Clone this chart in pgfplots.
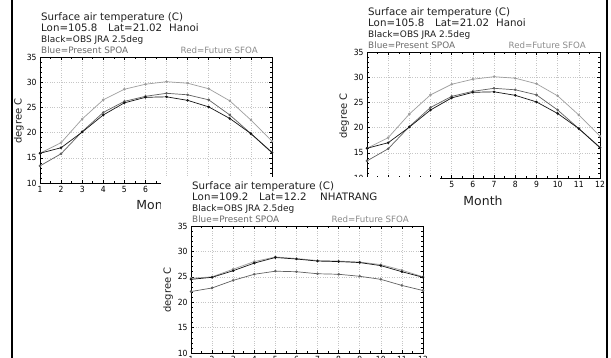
\documentclass[border=0pt]{standalone}
\usepackage{pgfplots}
\pgfplotsset{compat=1.18}
\usepackage{fontspec}
\setmainfont{DejaVu Sans}
\newfontfamily\condfont{DejaVu Sans Condensed}
\definecolor{obs}{gray}{0.08}
\definecolor{pres}{gray}{0.38}
\definecolor{fut}{gray}{0.62}
\definecolor{txt}{gray}{0.12}
\definecolor{bluetxt}{gray}{0.42}
\definecolor{redtxt}{gray}{0.55}

% Hanoi
\pgfplotstableread{
m obs pres fut
1 15.9 13.4 15.9
2 17.0 15.8 18.0
3 20.1 20.2 22.7
4 23.5 24.0 26.5
5 25.9 26.2 28.6
6 27.0 27.2 29.6
7 27.1 27.8 30.1
8 26.4 27.5 29.8
9 25.1 26.5 28.7
10 22.8 23.5 26.3
11 19.8 19.8 22.5
12 16.0 16.1 18.3
}\hanoi
% Nha Trang
\pgfplotstableread{
m obs pres fut
1 24.5 22.1 24.7
2 24.9 22.8 25.0
3 26.2 24.3 26.5
4 27.7 25.5 28.0
5 28.8 26.1 28.9
6 28.5 26.0 28.6
7 28.1 25.6 28.2
8 28.0 25.5 28.1
9 27.8 25.1 27.9
10 27.2 24.5 27.4
11 26.0 23.3 26.3
12 24.9 22.3 25.0
}\nhatrang

\pgfplotsset{
  panel/.style={
    scale only axis, anchor=south west,
    xmin=1, xmax=12, ymin=10, ymax=35,
    xtick={1,...,12}, ytick={10,15,...,35},
    minor x tick num=1, minor y tick num=4,
    grid=major,
    major grid style={gray!45, dotted, line width=0.5pt},
    tick align=inside,
    major tick length=3bp, minor tick length=1.6bp,
    every tick/.style={black, line width=0.5pt},
    axis line style={line width=0.6pt, black},
    tick label style={font=\condfont\fontsize{8.5}{9}\selectfont},
    /pgf/number format/assume math mode=true,
    xticklabel style={yshift=0bp},
  },
  ser/.style={line width=0.7pt, mark=*, mark size=0.9bp, mark options={solid}},
}

\newcommand\headtext[6]{% #1 left x, #2 top y (axis top), #3 right x, #4 lon, #5 lat, #6 place
  \node[anchor=base west, inner sep=0, text=txt, font=\fontsize{10.3}{11}\selectfont] at (#1bp+1bp,-#2bp+37bp) {Surface air temperature (C)};
  \node[anchor=base west, inner sep=0, text=txt, font=\fontsize{10.3}{11}\selectfont] at (#1bp+1bp,-#2bp+26bp) {Lon=#4};
  \node[anchor=base west, inner sep=0, text=txt, font=\fontsize{10.3}{11}\selectfont] at (#1bp+68bp,-#2bp+26bp) {Lat=#5};
  \node[anchor=base west, inner sep=0, text=txt, font=\fontsize{10.3}{11}\selectfont] at (#1bp+129bp,-#2bp+26bp) {#6};
  \node[anchor=base west, inner sep=0, text=txt, font=\fontsize{9}{10}\selectfont] at (#1bp+1bp,-#2bp+15bp) {Black=OBS JRA 2.5deg};
  \node[anchor=base west, inner sep=0, text=bluetxt, font=\fontsize{8.9}{10}\selectfont] at (#1bp+1bp,-#2bp+4bp) {Blue=Present SPOA};
  \node[anchor=base east, inner sep=0, text=redtxt, font=\fontsize{8.7}{10}\selectfont] at (#3bp-14bp,-#2bp+4bp) {Red=Future SFOA};
}

\begin{document}
\begin{tikzpicture}
\useasboundingbox (0,0) rectangle (611bp,-358bp);
\fill[white] (0,0) rectangle (611bp,-358bp);

% ---------- top-left panel (Hanoi) ----------
\begin{axis}[panel, at={(40bp,-183bp)}, width=232bp, height=126bp]
\addplot[ser, fut] table[x=m, y=fut] {\hanoi};
\addplot[ser, pres] table[x=m, y=pres] {\hanoi};
\addplot[ser, obs] table[x=m, y=obs] {\hanoi};
\end{axis}
\headtext{40}{57}{272}{105.8}{21.02}{Hanoi}
\node[rotate=90, text=txt, font=\fontsize{10}{11}\selectfont] at (19bp,-121bp) {degree C};
\node[text=txt, font=\fontsize{12.5}{13}\selectfont] at (156bp,-205bp) {Month};

% ---------- top-right panel (Hanoi) ----------
\begin{axis}[panel, at={(367bp,-178bp)}, width=233bp, height=126bp]
\addplot[ser, fut] table[x=m, y=fut] {\hanoi};
\addplot[ser, pres] table[x=m, y=pres] {\hanoi};
\addplot[ser, obs] table[x=m, y=obs] {\hanoi};
\end{axis}
\headtext{367}{52}{600}{105.8}{21.02}{Hanoi}
\node[rotate=90, text=txt, font=\fontsize{10}{11}\selectfont] at (344bp,-116bp) {degree C};
\node[text=txt, font=\fontsize{12.5}{13}\selectfont] at (483bp,-201bp) {Month};

% ---------- white sheet of the bottom panel ----------
\fill[white] (161bp,-177bp) rectangle (440bp,-360bp);

% ---------- bottom panel (Nha Trang) ----------
\begin{axis}[panel, at={(191bp,-353bp)}, width=232bp, height=127bp]
\addplot[ser, fut] table[x=m, y=fut] {\nhatrang};
\addplot[ser, pres] table[x=m, y=pres] {\nhatrang};
\addplot[ser, obs] table[x=m, y=obs] {\nhatrang};
\end{axis}
\headtext{191}{226}{423}{109.2}{12.2}{NHATRANG}
\node[rotate=90, text=txt, font=\fontsize{10}{11}\selectfont] at (168bp,-290bp) {degree C};

% ---------- outer frame lines ----------
\draw[black, line width=1.2pt] (12bp,0) -- (12bp,-358bp);
\draw[black, line width=1.2pt] (607bp,0) -- (607bp,-358bp);
\end{tikzpicture}
\end{document}
